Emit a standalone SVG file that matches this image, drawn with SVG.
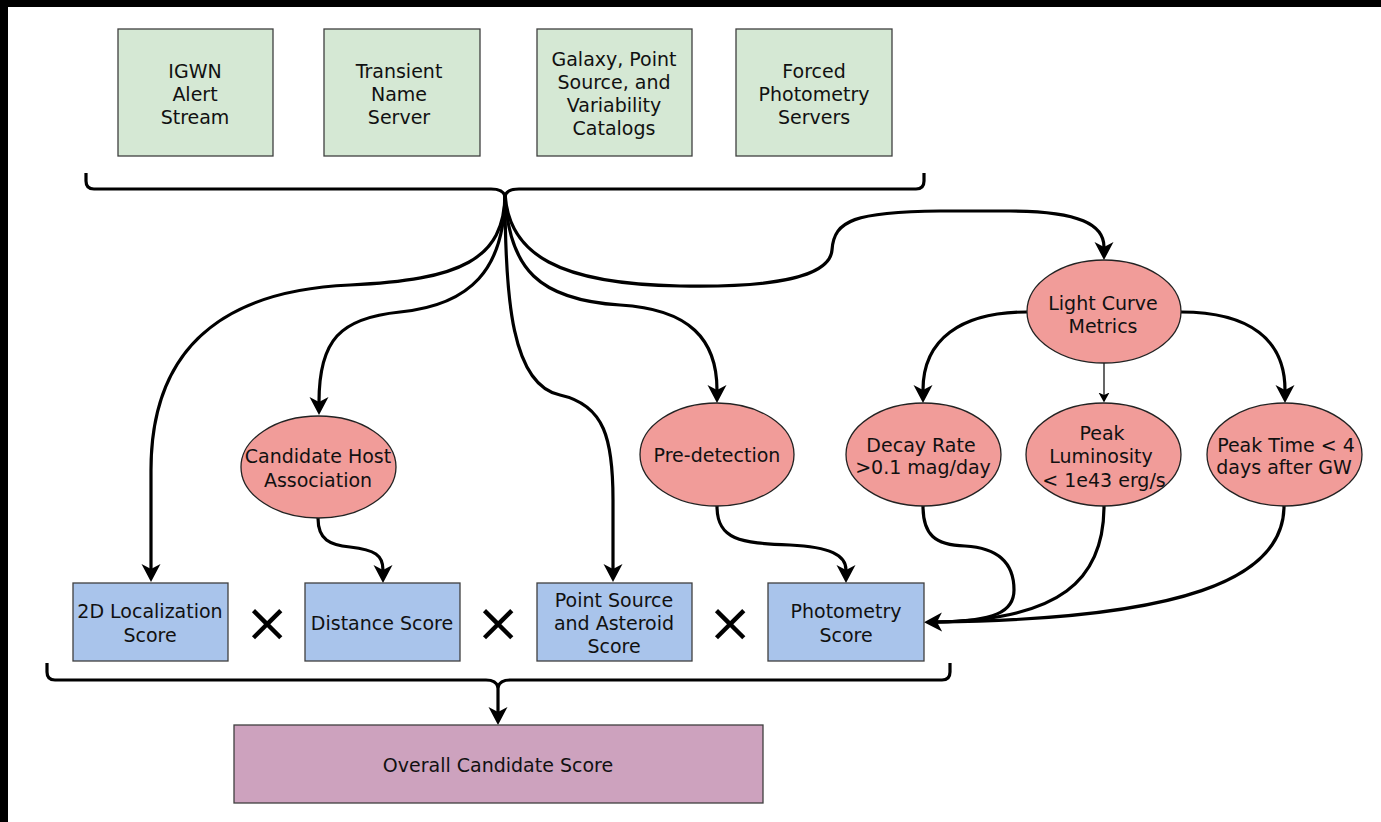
<svg xmlns="http://www.w3.org/2000/svg" width="1381" height="822" viewBox="0 0 1381 822">
<style>
text{font-family:"DejaVu Sans","Verdana",sans-serif;font-size:19px;fill:#111;text-anchor:middle}
.g{fill:#d5e8d4;stroke:#3f3f3f;stroke-width:1.3}
.b{fill:#a9c4eb;stroke:#3f3f3f;stroke-width:1.3}
.r{fill:#f19c99;stroke:#222;stroke-width:1.3}
.p{fill:#cda2be;stroke:#3f3f3f;stroke-width:1.3}
.e{fill:none;stroke:#000;stroke-width:3.2;stroke-linejoin:round}
.t{fill:none;stroke:#000;stroke-width:1.2}
.x{font-size:54px;fill:#000}
</style>
<defs>
<marker id="ah" markerUnits="userSpaceOnUse" markerWidth="22" markerHeight="22" viewBox="0 -11 22 22" refX="5" refY="0" orient="auto">
<path d="M0,-9.5 L18,0 L0,9.5 L5,0 Z" fill="#000"/>
</marker>
<marker id="ahs" markerUnits="userSpaceOnUse" markerWidth="12" markerHeight="12" viewBox="0 -6 12 12" refX="2.5" refY="0" orient="auto">
<path d="M0,-5.5 L10,0 L0,5.5 L2.5,0 Z" fill="#000"/>
</marker>
</defs>
<rect width="1381" height="822" fill="#fff"/>
<rect x="0" y="0" width="1381" height="7" fill="#000"/>
<rect x="0" y="0" width="8" height="822" fill="#000"/>

<g id="connectors">
<path class="e" d="M86,173 L86,181 Q86,189 94,189 L491,189 Q503,189 505,196 Q507,189 519,189 L916,189 Q924,189 924,181 L924,173"/>
<path class="e" marker-end="url(#ah)" d="M505,193 C505,260 460,280 350,285 C210,291 151,360 151,470 L151,569"/>
<path class="e" marker-end="url(#ah)" d="M505,193 C505,270 470,305 400,312 C340,318 319,340 319,402"/>
<path class="e" marker-end="url(#ah)" d="M505,193 C505,300 512,385 560,395 C605,405 613,440 613,500 L613,569"/>
<path class="e" marker-end="url(#ah)" d="M505,193 C508,270 540,300 620,305 C690,309 717,340 717,390"/>
<path class="e" marker-end="url(#ah)" d="M505,193 C508,255 560,284 680,286 C780,288 830,275 832,250 C834,220 855,212 940,211 L1010,211 C1080,211 1104,225 1104,247"/>
<path class="e" marker-end="url(#ah)" d="M1027,312 C960,312 923,340 923,390"/>
<path class="e" marker-end="url(#ah)" d="M1181,312 C1250,312 1285,340 1285,390"/>
<path class="t" marker-end="url(#ahs)" d="M1104,363 L1104,395"/>
<path class="e" marker-end="url(#ah)" d="M318,518 C318,540 330,545 350,547 C375,550 383,555 383,570"/>
<path class="e" marker-end="url(#ah)" d="M717,506 C717,540 740,543 790,545 C830,547 846,555 846,570"/>
<path class="e" d="M923,506 C923,535 935,545 965,546 C1000,548 1014,565 1014,590 C1014,612 995,621 937,622"/>
<path class="e" d="M1104,506 C1104,580 1060,620 937,622"/>
<path class="e" marker-end="url(#ah)" d="M1284,506 C1284,580 1180,619 937,622"/>
<path class="e" d="M47,663 L47,672 Q47,680 55,680 L486,680 Q496,680 498,687 Q500,680 510,680 L942,680 Q950,680 950,672 L950,663"/>
<path class="e" marker-end="url(#ah)" d="M498,684 L498,712"/>
</g>

<g id="igwn"><rect class="g" x="118" y="29" width="155" height="127"/><text x="195" y="78">IGWN</text><text x="195" y="101">Alert</text><text x="195" y="124">Stream</text></g>
<g id="tns"><rect class="g" x="324" y="29" width="156" height="127"/><text x="399" y="78">Transient</text><text x="399" y="101">Name</text><text x="399" y="124">Server</text></g>
<g id="catalogs"><rect class="g" x="537" y="29" width="155" height="127"/><text x="614" y="66">Galaxy, Point</text><text x="614" y="89">Source, and</text><text x="614" y="112">Variability</text><text x="614" y="135">Catalogs</text></g>
<g id="forced"><rect class="g" x="736" y="29" width="156" height="127"/><text x="814" y="78">Forced</text><text x="814" y="101">Photometry</text><text x="814" y="124">Servers</text></g>

<g id="lightcurve"><ellipse class="r" cx="1104" cy="311.5" rx="77" ry="51.5"/><text x="1103" y="310">Light Curve</text><text x="1103" y="333">Metrics</text></g>
<g id="host"><ellipse class="r" cx="318.5" cy="467" rx="77.5" ry="51"/><text x="318" y="463">Candidate Host</text><text x="318" y="487">Association</text></g>
<g id="predetection"><ellipse class="r" cx="717" cy="454.5" rx="77" ry="51.5"/><text x="717" y="462">Pre-detection</text></g>
<g id="decay"><ellipse class="r" cx="923.5" cy="454.5" rx="77.5" ry="51.5"/><text x="921" y="452">Decay Rate</text><text x="923" y="474">&gt;0.1 mag/day</text></g>
<g id="peaklum"><ellipse class="r" cx="1103.5" cy="454.5" rx="77.5" ry="51.5"/><text x="1102" y="440">Peak</text><text x="1101" y="463">Luminosity</text><text x="1104" y="487">&lt; 1e43 erg/s</text></g>
<g id="peaktime"><ellipse class="r" cx="1284.5" cy="454.5" rx="77.5" ry="51.5"/><text x="1286" y="452">Peak Time &lt; 4</text><text x="1284" y="474">days after GW</text></g>

<g id="loc2d"><rect class="b" x="73" y="583" width="155" height="78"/><text x="150" y="618">2D Localization</text><text x="150" y="642">Score</text></g>
<g id="distance"><rect class="b" x="305" y="583" width="155" height="78"/><text x="382" y="630">Distance Score</text></g>
<g id="pointsource"><rect class="b" x="537" y="583" width="155" height="78"/><text x="614" y="607">Point Source</text><text x="614" y="630">and Asteroid</text><text x="614" y="653">Score</text></g>
<g id="photometry"><rect class="b" x="768" y="583" width="156" height="78"/><text x="846" y="618">Photometry</text><text x="846" y="642">Score</text></g>

<g id="times"><text class="x" x="267" y="641">×</text><text class="x" x="498" y="641">×</text><text class="x" x="730" y="641">×</text></g>

<g id="overall"><rect class="p" x="234" y="725" width="529" height="78"/><text x="498" y="772">Overall Candidate Score</text></g>
</svg>
